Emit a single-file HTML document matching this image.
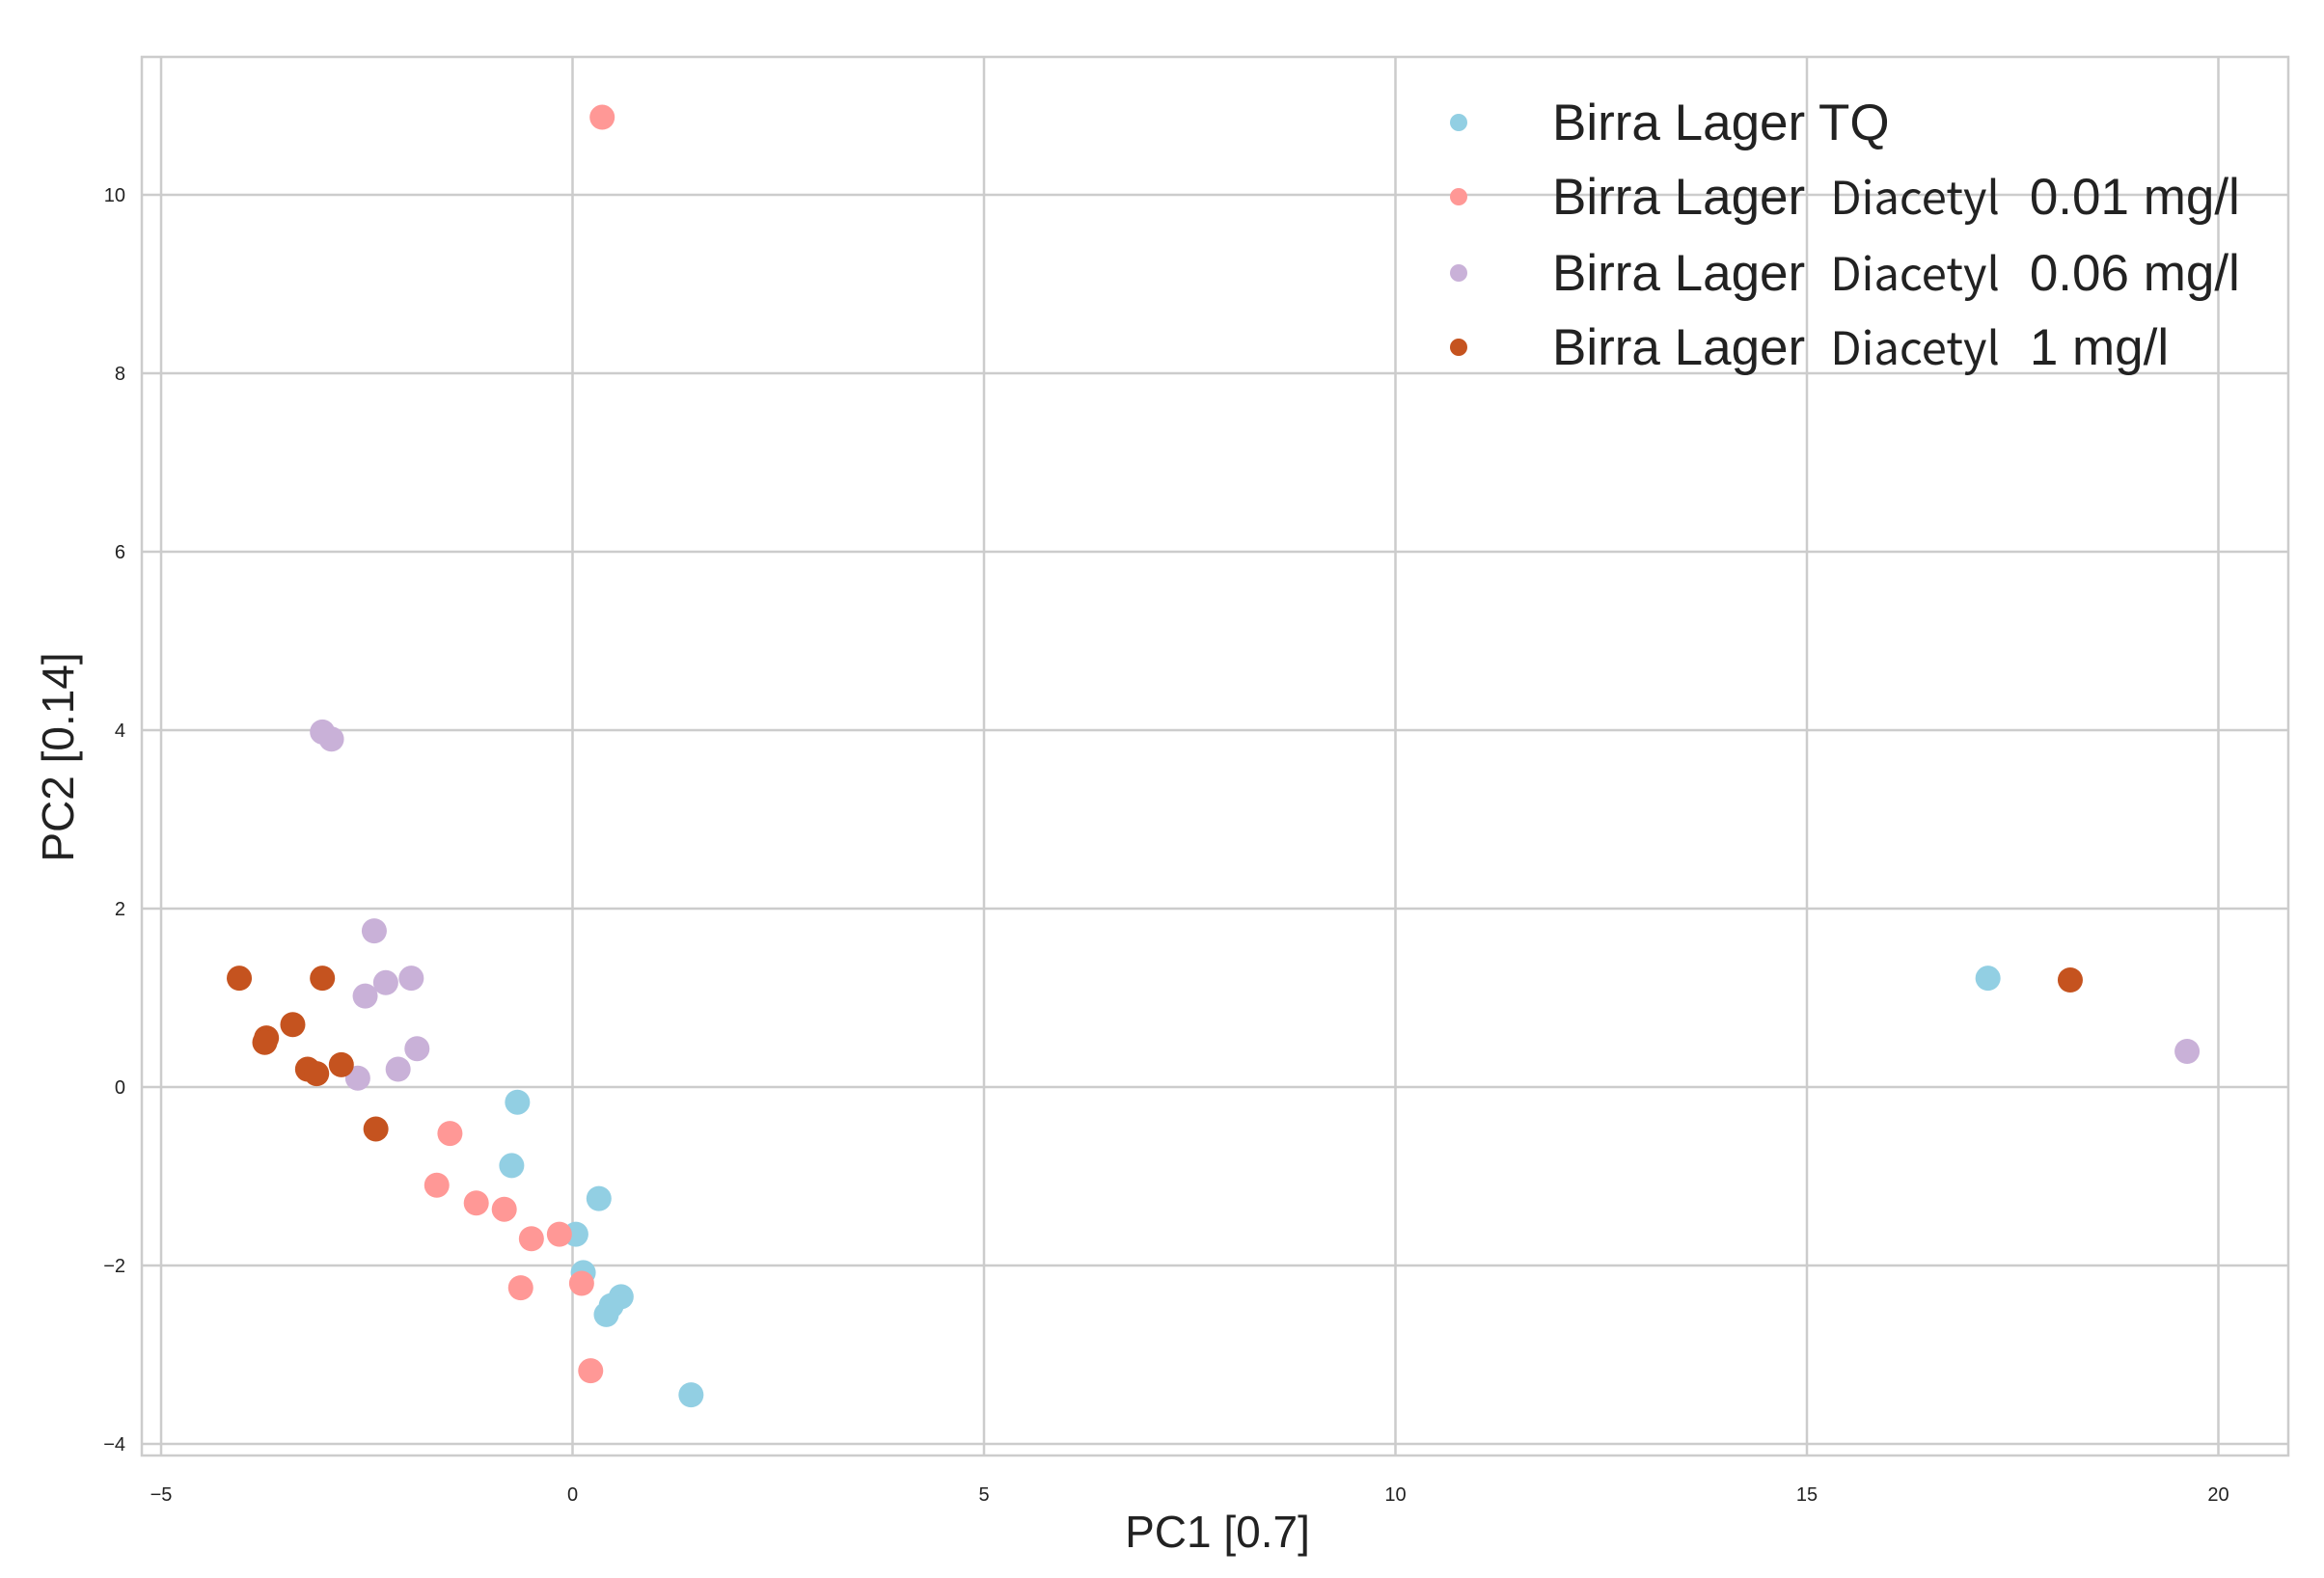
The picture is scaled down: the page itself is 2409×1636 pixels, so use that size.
<!DOCTYPE html>
<html><head><meta charset="utf-8"><style>
body{margin:0;background:#fff;}
svg text{font-family:"Liberation Sans",sans-serif;fill:#222;}
</style></head><body>
<svg id="chart" width="2409" height="1631" viewBox="0 0 2409 1631" xmlns="http://www.w3.org/2000/svg">
<rect width="2409" height="1631" fill="#fff"/>
<g id="grid"></g>
<rect x="147" y="59" width="2225" height="1450" fill="none" stroke="#cccccc" stroke-width="2.5"/>
<g id="ticks"></g>
<g id="points"></g>
<text x="1262" y="1604" font-size="46" text-anchor="middle">PC1 [0.7]</text>
<text transform="translate(76,785) rotate(-90)" font-size="46" text-anchor="middle">PC2 [0.14]</text>
<g id="legend"></g>
</svg>
<script>
const xTicks=[-5,0,5,10,15,20];
const yTicks=[-4,-2,0,2,4,6,8,10];
const seriesNames=["Birra Lager TQ","Birra Lager Diacetyl 0.01 mg/l","Birra Lager Diacetyl 0.06 mg/l","Birra Lager Diacetyl 1 mg/l"];
const tqX=[-0.67,-0.74,0.32,0.04,0.13,0.59,0.47,0.41,1.44,17.2];
const tqY=[-0.17,-0.88,-1.25,-1.65,-2.08,-2.35,-2.45,-2.55,-3.45,1.22];
const d001X=[0.36,-1.49,-1.65,-1.17,-0.83,-0.5,-0.16,-0.63,0.11,0.22];
const d001Y=[10.87,-0.52,-1.1,-1.3,-1.37,-1.7,-1.65,-2.25,-2.2,-3.18];
const d006X=[-3.04,-2.93,-2.41,-2.27,-1.96,-2.52,-1.89,-2.12,-2.61,19.62];
const d006Y=[3.98,3.9,1.75,1.17,1.22,1.02,0.43,0.2,0.1,0.4];
const d1X=[-4.05,-3.04,-3.4,-3.72,-3.74,-2.81,-3.22,-3.11,-2.39,18.2];
const d1Y=[1.22,1.22,0.7,0.55,0.5,0.25,0.2,0.15,-0.47,1.2];
const colors=["#92cfe3","#ff9896","#c9b1d8","#c5531f"];
const NS="http://www.w3.org/2000/svg";
const sx=v=>593.5+v*85.3;
const sy=v=>1127-v*92.5;
function mk(t,a){const e=document.createElementNS(NS,t);for(const k in a)e.setAttribute(k,a[k]);return e;}
const grid=document.getElementById('grid'),ticks=document.getElementById('ticks');
xTicks.forEach(v=>{
 const l=mk('line',{x1:sx(v),x2:sx(v),y1:59,y2:1509,stroke:'#cccccc','stroke-width':2.5});
 
 
 grid.appendChild(l);
 const t=mk('text',{x:sx(v),y:1556,'font-size':20,'text-anchor':'middle'});
 t.textContent=v<0?'\u2212'+(-v):v;
 
 
 ticks.appendChild(t);
});
yTicks.forEach(v=>{
 const l=mk('line',{x1:147,x2:2372,y1:sy(v),y2:sy(v),stroke:'#cccccc','stroke-width':2.5});
 
 
 grid.appendChild(l);
 const t=mk('text',{x:130,y:sy(v)+7,'font-size':20,'text-anchor':'end'});
 t.textContent=v<0?'\u2212'+(-v):v;
 
 
 ticks.appendChild(t);
});
const pts=document.getElementById('points');
const series=[[tqX,tqY],[d001X,d001Y],[d006X,d006Y],[d1X,d1Y]];
series.forEach((s,i)=>{
 s[0].forEach((x,j)=>{
  const c=mk('circle',{cx:sx(x),cy:sy(s[1][j]),r:13,fill:colors[i]});
  
  
  pts.appendChild(c);
 });
});
const lg=document.getElementById('legend');
const rows=[127,204,283,360];
seriesNames.forEach((n,i)=>{
 const c=mk('circle',{cx:1512,cy:rows[i],r:9,fill:colors[i]});
 
 
 lg.appendChild(c);
 const t=mk('text',{x:1609,y:rows[i]+18,'font-size':53});
 
 
 if(i===0){t.textContent=n;}
 else{
  const parts=n.split(' ');
  const a=mk('tspan',{});a.textContent='Birra Lager';t.appendChild(a);
  const b=mk('tspan',{dx:26,'font-size':47,'style':'font-family:"Noto Sans CJK SC",sans-serif;font-weight:400'});b.textContent='Diacetyl';t.appendChild(b);
  const d=mk('tspan',{dx:31});d.textContent=parts.slice(3).join(' ');t.appendChild(d);
 }
 lg.appendChild(t);
});
</script>
</body></html>
